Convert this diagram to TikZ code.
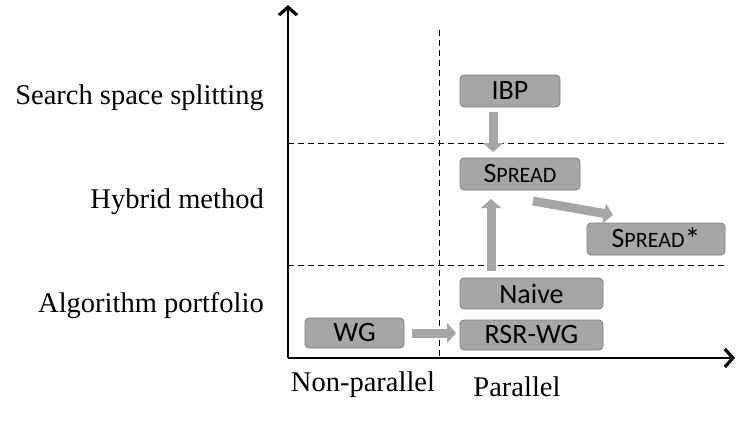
\documentclass[tikz,border=0pt]{standalone}
\usepackage{fontspec}
\setmainfont{Liberation Serif}
\newfontfamily\boxfont{Carlito}
\usetikzlibrary{arrows.meta}
\definecolor{boxfill}{HTML}{A6A6A6}
\definecolor{boxline}{HTML}{7F7F7F}
\definecolor{arrgray}{HTML}{A6A6A6}
\newcommand{\spr}{S{\fontsize{22}{22}\selectfont PREAD}}
\begin{document}
\begin{tikzpicture}[x=1pt,y=-1pt,
  algbox/.style={draw=boxline,fill=boxfill,rounded corners=4pt,line width=0.8pt,
    font=\boxfont\fontsize{28}{28}\selectfont,inner sep=0pt},
  blockarrow/.style={draw=arrgray,line width=9pt,-{Triangle[length=9pt,width=20pt]}},
  axisline/.style={line width=1.5pt,-{Straight Barb[length=8pt,width=18pt,line width=3.2pt]}},
  divider/.style={dashed,dash pattern=on 6pt off 4pt,line width=0.9pt},
  lab/.style={font=\fontsize{28.5}{28.5}\selectfont,inner sep=0pt}]
\useasboundingbox (0,0) rectangle (736,432);
% axes
\coordinate (o) at (288,358);
\coordinate (ytop) at (288,5);
\coordinate (xend) at (735,358);
\draw[axisline] (o) -- (ytop);
\draw[axisline] (o) -- (xend);
% dividers
\coordinate (v1) at (439,30);
\coordinate (v2) at (439,358);
\draw[divider] (v1) -- (v2);
\coordinate (h1a) at (288,143);
\coordinate (h1b) at (727,143);
\coordinate (h2a) at (288,265);
\coordinate (h2b) at (727,265);
\draw[divider] (h1a) -- (h1b);
\draw[divider] (h2a) -- (h2b);
% boxes
\node[algbox,minimum width=100pt,minimum height=32pt] (ibp) at (510,91) {IBP};
\node[algbox,minimum width=120pt,minimum height=32pt] (spread) at (520,174) {\spr};
\node[algbox,minimum width=138pt,minimum height=32pt] (spreadx) at (656,239) {\spr\raisebox{-3pt}{\fontsize{32}{32}\selectfont *}};
\node[algbox,minimum width=143pt,minimum height=31pt] (naive) at (531.5,293.5) {Naive};
\node[algbox,minimum width=143pt,minimum height=30pt] (rsr) at (531.5,335) {RSR-WG};
\node[algbox,minimum width=99pt,minimum height=30pt] (wg) at (354.5,333) {WG};
% arrow end points
\coordinate (a1s) at (493,112);
\coordinate (a1e) at (493,152);
\coordinate (a2s) at (491,271);
\coordinate (a2e) at (491,199);
\coordinate (a3s) at (533,201);
\coordinate (a3e) at (613,215);
\coordinate (a4s) at (412,333);
\coordinate (a4e) at (456,333);
\draw[blockarrow] (a1s) -- (a1e);
\draw[blockarrow] (a2s) -- (a2e);
\draw[blockarrow] (a3s) -- (a3e);
\draw[blockarrow] (a4s) -- (a4e);
% labels
\node[lab,anchor=east] (l1) at (264,98) {Search space splitting};
\node[lab,anchor=east] (l2) at (264,202) {Hybrid method};
\node[lab,anchor=east] (l3) at (264,306) {Algorithm portfolio};
\node[lab] (l4) at (363,385) {Non-parallel};
\node[lab] (l5) at (517,387) {Parallel};
\end{tikzpicture}
\end{document}
